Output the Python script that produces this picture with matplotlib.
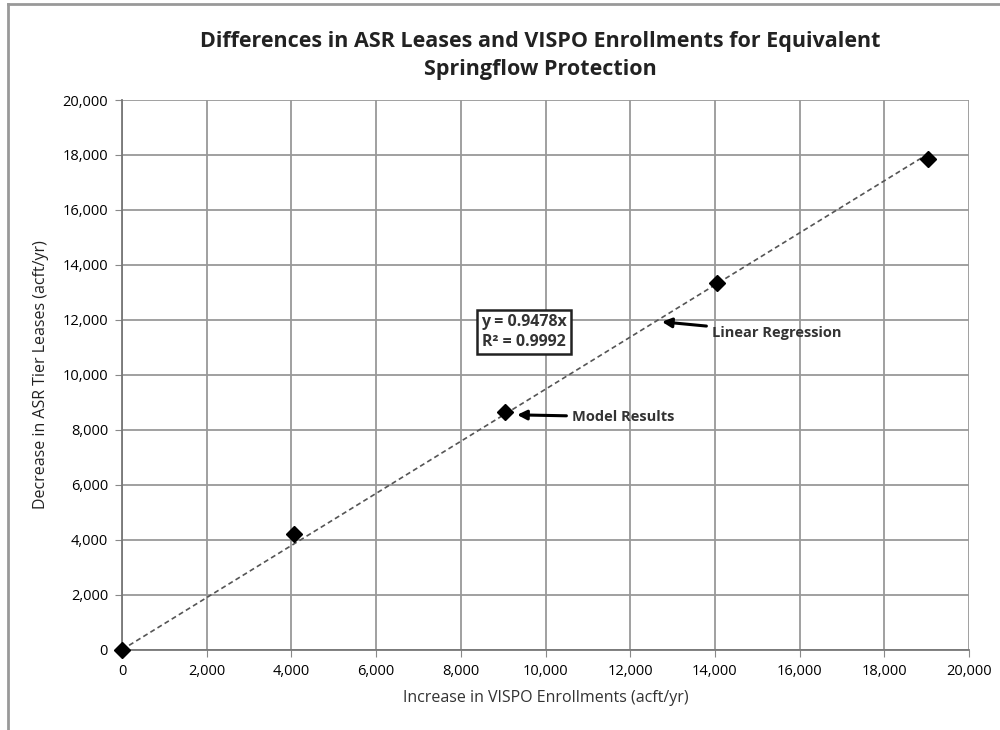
import numpy as np
import matplotlib
matplotlib.use('Agg')
import matplotlib.pyplot as plt
from matplotlib.lines import Line2D

# model results (acft/yr)
vispo = [0, 4050, 9050, 14050, 19030]
asr = [0, 4200, 8650, 13350, 17870]
slope = 0.9478
r2 = 0.9992

ticks = np.arange(0, 20001, 2000)

plt.rcParams['font.family'] = ['Open Sans', 'DejaVu Sans']

fig = plt.figure(figsize=(10, 7.3), dpi=100)
ax = fig.add_axes([0.122, 0.11, 0.847, 0.753])

# trend line
xt = np.array([0, vispo[-1]])
ax.plot(xt, slope * xt, ls=(0, (3, 2)), color='#555555', lw=1.2, zorder=3)
ax.plot(vispo, asr, ls='none', marker='D', ms=8, color='black', zorder=4, clip_on=False)

ax.set_xlim(0, 20000)
ax.set_ylim(0, 20000)
ax.set_xticks(ticks)
ax.set_yticks(ticks)
ax.set_xticklabels(['{:,}'.format(t) for t in ticks])
ax.set_yticklabels(['{:,}'.format(t) for t in ticks])
ax.tick_params(labelsize=10.5, length=5, color='#888888', direction='out', pad=5)
ax.grid(True, color='#999999', lw=1.3)
ax.set_axisbelow(True)
for s in ['top', 'right']:
    ax.spines[s].set_visible(False)
for s in ['left', 'bottom']:
    ax.spines[s].set_color('#777777')
    ax.spines[s].set_linewidth(1.3)

ax.set_xlabel('Increase in VISPO Enrollments (acft/yr)', fontsize=11.5, color='#333333', labelpad=8)
ax.set_ylabel('Decrease in ASR Tier Leases (acft/yr)', fontsize=11.5, color='#222222', labelpad=10)
fig.suptitle('Differences in ASR Leases and VISPO Enrollments for Equivalent\nSpringflow Protection',
             x=0.54, y=0.958, fontsize=15.5, fontweight='bold', color='#222222', linespacing=1.45)

ax.text(9500, 11560, 'y = 0.9478x\nR² = 0.9992', fontsize=11.5, fontweight='bold', color='#333333',
        ha='center', va='center', linespacing=1.3,
        bbox=dict(boxstyle='square,pad=0.25', fc='white', ec='#222222', lw=1.8), zorder=5)

arrow = dict(arrowstyle='-|>', color='black', lw=2.2, mutation_scale=14, shrinkA=2, shrinkB=0)
ax.annotate('Model Results', xy=(9330, 8545), xytext=(10625, 8470), fontsize=10.5, fontweight='bold',
            color='#333333', va='center', arrowprops=arrow, zorder=5)
ax.annotate('Linear Regression', xy=(12750, 11930), xytext=(13930, 11530), fontsize=10.5, fontweight='bold',
            color='#333333', va='center', arrowprops=arrow, zorder=5)

# chart area border (left/top edges visible)
fig.add_artist(Line2D([0.008, 0.008], [0.0, 0.995], color='#999999', lw=2))
fig.add_artist(Line2D([0.008, 1.0], [0.995, 0.995], color='#999999', lw=2))

fig.savefig('out.png', dpi=100)
